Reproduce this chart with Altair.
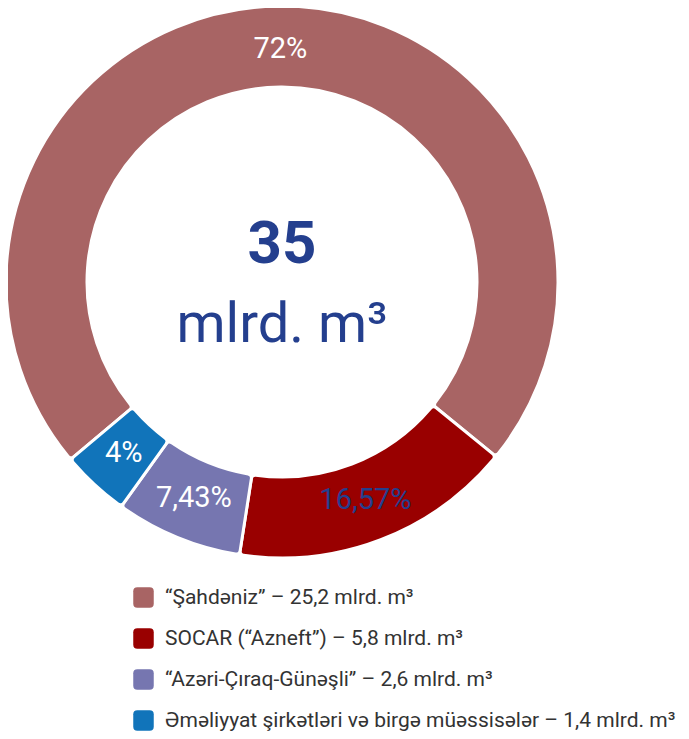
import math
import altair as alt
import pandas as pd

names = ["Şahdəniz", "SOCAR", "ACG", "Emeliyyat"]
legend_labels = [
    "“Şahdəniz” – 25,2 mlrd. m³",
    "SOCAR (“Azneft”) – 5,8 mlrd. m³",
    "“Azəri-Çıraq-Günəşli” – 2,6 mlrd. m³",
    "Əməliyyat şirkətləri və birgə müəssisələr – 1,4 mlrd. m³",
]
values = [25.2, 5.8, 2.6, 1.4]
pct_labels = ["72%", "16,57%", "7,43%", "4%"]
colors = ["#a86464", "#990000", "#7676b0", "#1174ba"]
center_value = ["35"]
center_unit = ["mlrd. m³"]

df = pd.DataFrame({
    "name": names,
    "label": legend_labels,
    "value": values,
    "pct": pct_labels,
    "idx": list(range(len(names))),
})

start = math.radians(-130)
theta_scale = alt.Scale(range=[start, start + 2 * math.pi])
CX, CY = 274, 274
BLUE = "#243f8e"

base = alt.Chart(df)

arcs = base.mark_arc(
    innerRadius=195, outerRadius=276, cornerRadius=4, stroke="white", strokeWidth=3
).encode(
    theta=alt.Theta("value:Q", stack=True, scale=theta_scale),
    order=alt.Order("idx:O"),
    color=alt.Color(
        "label:N",
        scale=alt.Scale(domain=legend_labels, range=colors),
        sort=legend_labels,
        legend=alt.Legend(
            title=None,
            orient="none",
            legendX=125,
            legendY=579,
            direction="vertical",
            symbolType="M-1,-0.6Q-1,-1,-0.6,-1L0.6,-1Q1,-1,1,-0.6L1,0.6Q1,1,0.6,1L-0.6,1Q-1,1,-1,0.6Z",
            symbolSize=420,
            symbolStrokeWidth=0,
            symbolOpacity=1,
            labelFont="Roboto",
            labelFontSize=21,
            labelColor="#333333",
            labelLimit=700,
            labelOffset=11,
            rowPadding=19,
        ),
    ),
    x=alt.value(CX),
    y=alt.value(CY),
)

pct_text = base.mark_text(
    radius=233, font="Roboto", fontSize=29
).encode(
    theta=alt.Theta("value:Q", stack=True, scale=theta_scale),
    order=alt.Order("idx:O"),
    text="pct:N",
    color=alt.condition(alt.datum.name == "SOCAR", alt.value(BLUE), alt.value("white")),
    x=alt.value(CX),
    y=alt.value(CY),
)

center1 = alt.Chart(pd.DataFrame({"t": center_value})).mark_text(
    font="Roboto", fontSize=60, fontWeight="bold", color=BLUE, baseline="middle"
).encode(text="t:N", x=alt.value(CX), y=alt.value(237))

center2 = alt.Chart(pd.DataFrame({"t": center_unit})).mark_text(
    font="Roboto", fontSize=56, color=BLUE, baseline="alphabetic"
).encode(text="t:N", x=alt.value(CX), y=alt.value(334))

chart = alt.layer(arcs, pct_text, center1, center2).properties(
    width=673, height=723, padding=0, autosize=alt.AutoSizeParams(type="none")
).configure_view(stroke=None)

chart.save("out.html", embed_options={"renderer": "svg", "actions": False})
